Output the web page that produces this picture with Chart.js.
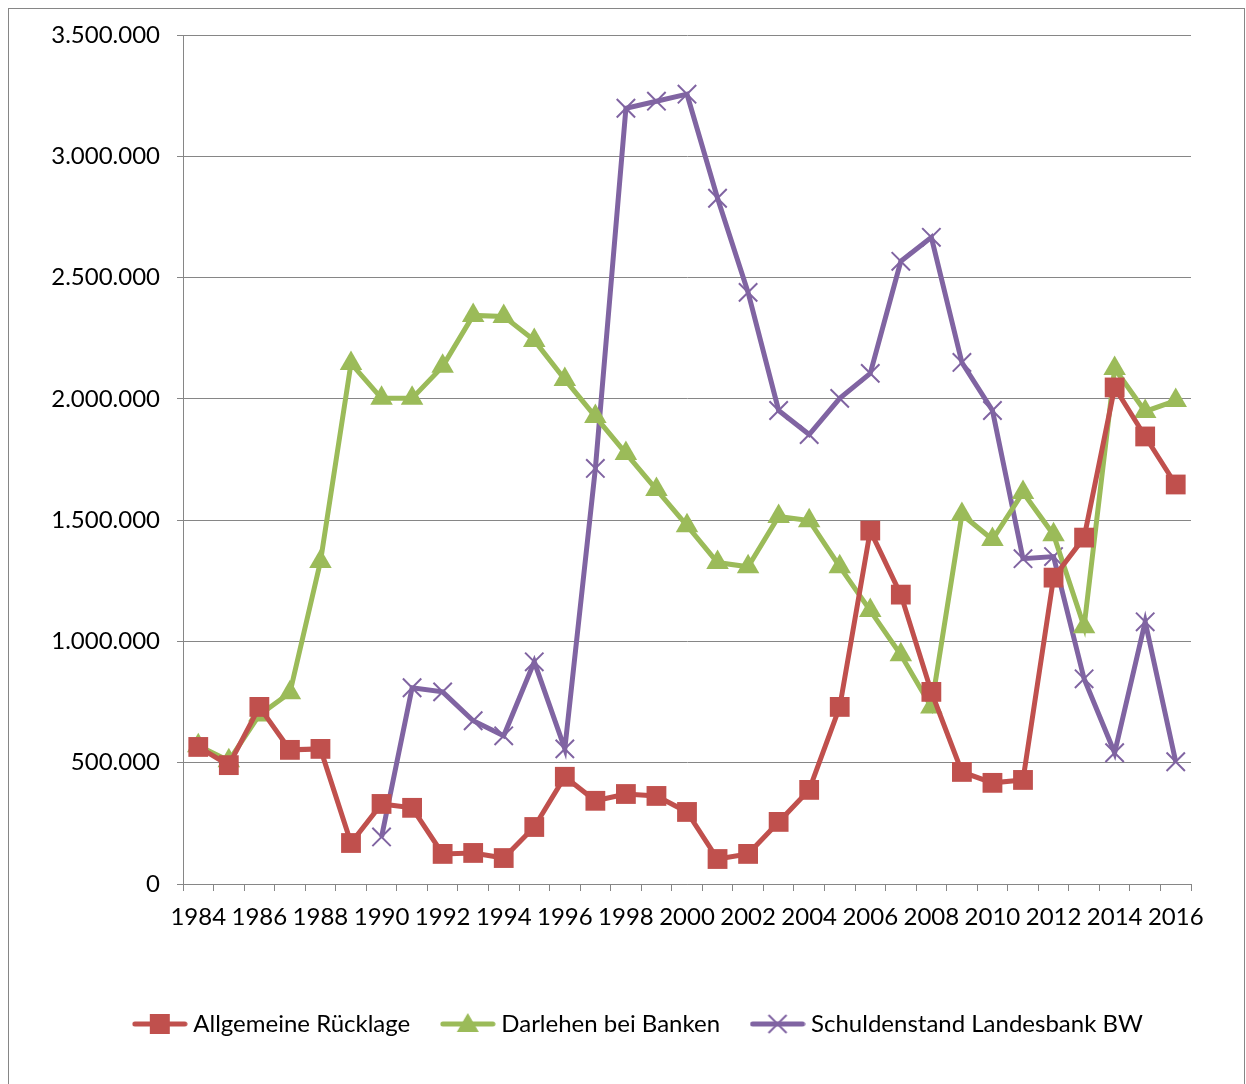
<!DOCTYPE html>
<html>
<head>
<meta charset="utf-8">
<script src="https://cdn.jsdelivr.net/npm/chart.js@4.4.0/dist/chart.umd.min.js"></script>
<style>
  html, body { margin: 0; padding: 0; background: #fff; }
  canvas { display: block; }
</style>
</head>
<body>
<canvas id="chart" width="1246" height="1084"></canvas>
<script>
const years = ["1984","1985","1986","1987","1988","1989","1990","1991","1992","1993","1994",
  "1995","1996","1997","1998","1999","2000","2001","2002","2003","2004","2005","2006","2007",
  "2008","2009","2010","2011","2012","2013","2014","2015","2016"];

const ruecklage = [565000, 490000, 730000, 553000, 557000, 169000, 330000, 314000, 124000, 128000,
  107000, 235000, 442000, 343000, 371000, 363000, 297000, 103000, 124000, 256000, 388000, 730000,
  1457000, 1193000, 792000, 462000, 417000, 429000, 1263000, 1428000, 2047000, 1845000, 1647000];

const darlehen = [570000, 508000, 697000, 788000, 1329000, 2146000, 2002000, 2002000, 2134000, 2344000,
  2340000, 2241000, 2080000, 1927000, 1775000, 1626000, 1477000, 1325000, 1308000, 1515000, 1498000,
  1308000, 1127000, 945000, 730000, 1523000, 1420000, 1614000, 1440000, 1061000, 2125000, 1948000, 1993000];

const schulden = [null, null, null, null, null, null, 194000, 809000, 792000, 673000,
  611000, 916000, 557000, 1713000, 3198000, 3227000, 3256000, 2827000, 2439000, 1952000, 1853000,
  2002000, 2105000, 2567000, 2666000, 2150000, 1952000, 1341000, 1350000, 846000, 541000, 1081000, 504000];

const RED = "#C0504D", GREEN = "#9BBB59", PURPLE = "#8064A2", GRID = "#868686";

function fmt(v) {
  return String(v).replace(/\B(?=(\d{3})+(?!\d))/g, ".");
}

// legend symbol: line segment with the marker in the middle
function legendIcon(color, style) {
  const c = document.createElement("canvas");
  c.width = 56; c.height = 24;
  const ctx = c.getContext("2d");
  ctx.strokeStyle = color;
  ctx.lineWidth = 5;
  ctx.lineCap = "round";
  ctx.beginPath(); ctx.moveTo(3, 12); ctx.lineTo(53, 12); ctx.stroke();
  ctx.fillStyle = color;
  if (style === "rect") {
    ctx.fillRect(18, 2, 20, 20);
  } else if (style === "triangle") {
    ctx.beginPath(); ctx.moveTo(28, 1); ctx.lineTo(39, 20); ctx.lineTo(17, 20); ctx.closePath(); ctx.fill();
  } else {
    ctx.lineWidth = 2;
    ctx.lineCap = "butt";
    ctx.beginPath();
    ctx.moveTo(19, 3); ctx.lineTo(37, 21);
    ctx.moveTo(37, 3); ctx.lineTo(19, 21);
    ctx.stroke();
  }
  return c;
}

const framePlugin = {
  id: "frame",
  afterLayout(chart) {
    // legend is centred under the whole frame, not only the plot
    chart.legend.left = 90;
  },
  beforeDraw(chart) {
    const ctx = chart.ctx;
    ctx.save();
    ctx.strokeStyle = GRID;
    ctx.lineWidth = 1;
    ctx.strokeRect(8.5, 8.5, 1236, 1100);
    ctx.restore();
  }
};

Chart.defaults.font.family = "Lato, 'Open Sans', sans-serif";
Chart.defaults.font.size = 24;
Chart.defaults.color = "#000";

new Chart("chart", {
  type: "line",
  data: {
    labels: years,
    datasets: [
      {
        label: "Allgemeine Rücklage",
        data: ruecklage,
        borderColor: RED,
        backgroundColor: RED,
        borderWidth: 5,
        pointStyle: "rect",
        pointRadius: 14,
        pointBorderWidth: 0,
        icon: legendIcon(RED, "rect")
      },
      {
        label: "Darlehen bei Banken",
        data: darlehen,
        borderColor: GREEN,
        backgroundColor: GREEN,
        borderWidth: 5,
        pointStyle: "triangle",
        pointRadius: 13,
        pointBorderWidth: 0,
        icon: legendIcon(GREEN, "triangle")
      },
      {
        label: "Schuldenstand Landesbank BW",
        data: schulden,
        borderColor: PURPLE,
        backgroundColor: PURPLE,
        borderWidth: 5,
        pointStyle: "crossRot",
        pointRadius: 13,
        pointBorderWidth: 2,
        pointBorderColor: PURPLE,
        icon: legendIcon(PURPLE, "cross")
      }
    ]
  },
  options: {
    responsive: false,
    animation: false,
    layout: { padding: { left: 0, right: 55, top: 35, bottom: 38 } },
    elements: { line: { tension: 0 } },
    scales: {
      x: {
        offset: true,
        grid: {
          offset: true,
          drawOnChartArea: false,
          color: GRID,
          lineWidth: 1,
          tickLength: 7
        },
        border: { color: GRID, width: 1 },
        ticks: {
          autoSkip: false,
          maxRotation: 0,
          padding: 12,
          callback: (v, i) => (i % 2 === 0 ? years[i] : "")
        },
        afterFit: (s) => { s.height = 92; }
      },
      y: {
        min: 0,
        max: 3500000,
        grid: { color: GRID, lineWidth: 1, tickLength: 6 },
        border: { color: GRID, width: 1 },
        ticks: {
          stepSize: 500000,
          padding: 17,
          callback: (v) => fmt(v)
        },
        afterFit: (s) => { s.width = 183; }
      }
    },
    plugins: {
      tooltip: { enabled: false },
      legend: {
        position: "bottom",
        labels: {
          usePointStyle: true,
          pointStyleWidth: 43,
          padding: 36,
          font: { size: 24 },
          color: "#000",
          generateLabels: (chart) => chart.data.datasets.map((ds, i) => ({
            text: ds.label,
            pointStyle: ds.icon,
            fillStyle: ds.borderColor,
            strokeStyle: ds.borderColor,
            lineWidth: 0,
            hidden: false,
            datasetIndex: i
          }))
        }
      }
    }
  },
  plugins: [framePlugin]
});
</script>
</body>
</html>
